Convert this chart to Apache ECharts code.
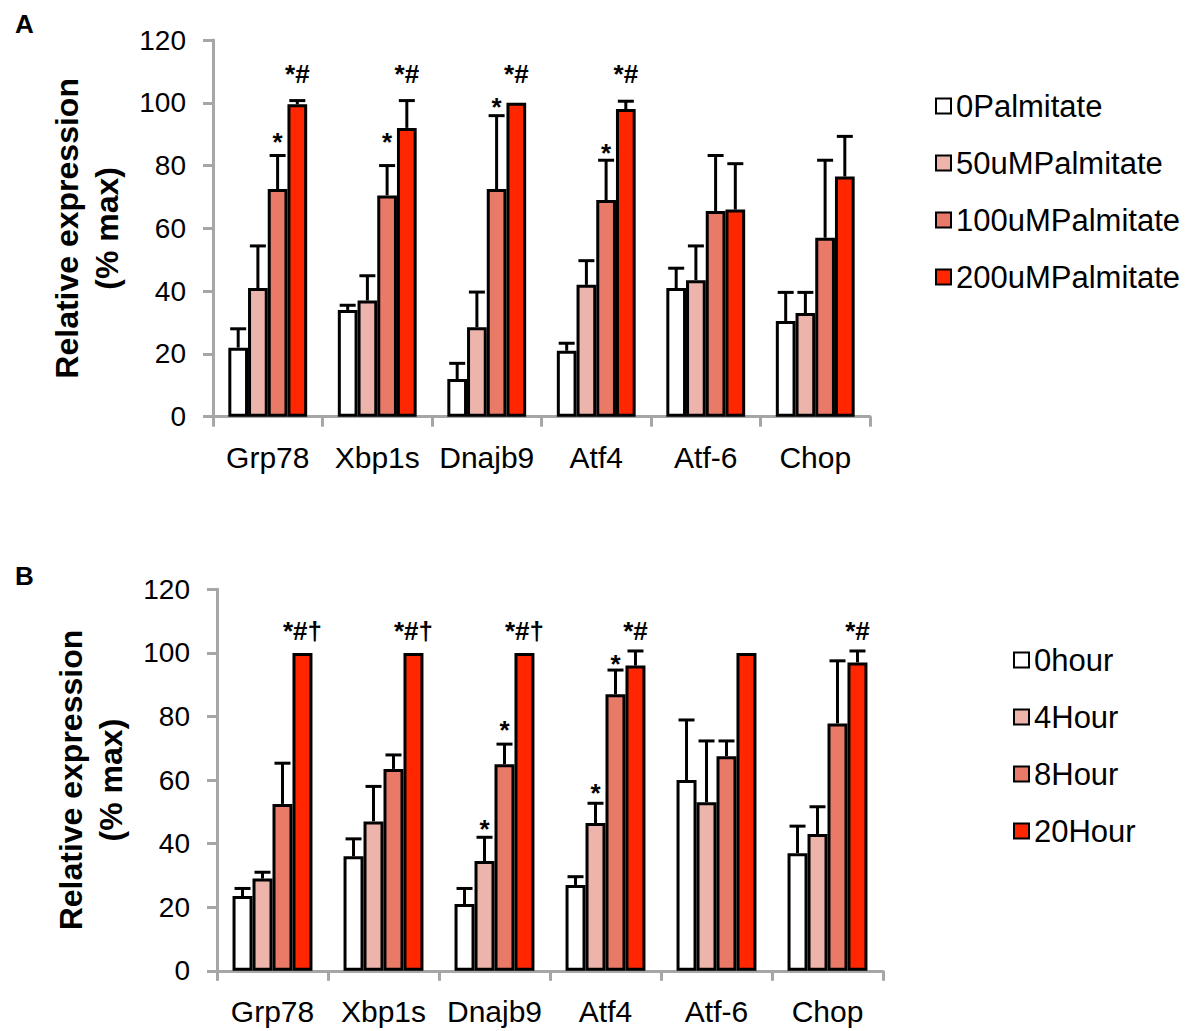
<!DOCTYPE html>
<html>
<head>
<meta charset="utf-8">
<script src="https://cdn.jsdelivr.net/npm/echarts@6/dist/echarts.min.js"></script>
<style>html,body{margin:0;padding:0;background:#fff;}#c{width:1193px;height:1031px;}</style>
</head>
<body>
<div id="c"></div>
<script>
// ---------- data ----------
const categories = ['Grp78', 'Xbp1s', 'Dnajb9', 'Atf4', 'Atf-6', 'Chop'];
const yTickMin = 0, yTickMax = 120, yTickStep = 20;

// Panel A (palmitate dose)
const seriesNamesA = ['0Palmitate', '50uMPalmitate', '100uMPalmitate', '200uMPalmitate'];
const a0   = [22, 34, 12, 21, 41, 30.5];
const a50  = [41, 37, 28.5, 42, 43.5, 33];
const a100 = [72.5, 70.5, 72.5, 69, 65.5, 57];
const a200 = [99.5, 92, 100, 98, 66, 76.5];
const errA0   = [6, 1.5, 5, 2.4, 6.3, 9.1];
const errA50  = [13.4, 7.9, 11.2, 7.7, 10.9, 6.6];
const errA100 = [10.7, 9.5, 23.4, 12.7, 17.7, 24.7];
const errA200 = [1.2, 8.7, 0, 2.5, 14.6, 12.8];
// [category, series index, text, value at glyph centre]
const annotA = [
  ['Grp78', 2, '*', 89.5], ['Grp78', 3, '*#', 109.3],
  ['Xbp1s', 2, '*', 89.3], ['Xbp1s', 3, '*#', 109.3],
  ['Dnajb9', 2, '*', 100.5], ['Dnajb9', 3, '*#', 109.3],
  ['Atf4', 2, '*', 86], ['Atf4', 3, '*#', 109.3]
];

// Panel B (time course)
const seriesNamesB = ['0hour', '4Hour', '8Hour', '20Hour'];
const b0  = [23.5, 36, 21, 27, 60, 37];
const b4  = [29, 47, 34.5, 46.5, 53, 43];
const b8  = [52.5, 63.5, 65, 87, 67.5, 77.8];
const b20 = [100, 100, 100, 96, 100, 97];
const errB0  = [2.4, 5.5, 4.9, 2.6, 18.9, 8.5];
const errB4  = [2, 11, 7.5, 6.2, 19.3, 8.6];
const errB8  = [12.8, 4.4, 6.3, 7.6, 4.8, 19.7];
const errB20 = [0, 0, 0, 4.6, 0, 3.6];
const annotB = [
  ['Grp78', 3, '*#\u2020', 106.9],
  ['Xbp1s', 3, '*#\u2020', 106.9],
  ['Dnajb9', 1, '*', 46.4], ['Dnajb9', 2, '*', 77.6], ['Dnajb9', 3, '*#\u2020', 106.9],
  ['Atf4', 1, '*', 57.9], ['Atf4', 2, '*', 98.3], ['Atf4', 3, '*#', 106.9],
  ['Chop', 3, '*#', 106.9]
];

const colors = ['#ffffff', '#edb4ac', '#e97a68', '#ff2600'];
// ---------- styling ----------
const FONT = "'Liberation Sans', Arial, sans-serif";
const CAT_GAP = 0.28;
const AXIS_GREY = '#a6a6a6';

function barX(api, ci, v, s) {
  const p = api.coord([ci, v]);
  const band = api.size([1, 0])[0];
  const total = band * (1 - CAT_GAP);
  const bw = total / 4;
  return [p[0] - total / 2 + bw * (s + 0.5), p[1]];
}

function errRender(params, api) {
  const ci = api.value(0), v = api.value(1), e = api.value(2), s = api.value(3);
  if (!e) return null;
  const base = barX(api, ci, v, s);
  const top = barX(api, ci, v + e, s);
  const x = base[0];
  return {
    type: 'group',
    children: [
      { type: 'line', shape: { x1: x, y1: base[1], x2: x, y2: top[1] }, style: { stroke: '#000', lineWidth: 3 } },
      { type: 'line', shape: { x1: x - 8, y1: top[1], x2: x + 8, y2: top[1] }, style: { stroke: '#000', lineWidth: 3 } }
    ]
  };
}
function makeAnnotRender(annots) {
  return function (params, api) {
    const a = annots[params.dataIndex];
    const txt = a[2];
    const p = barX(api, api.value(0), api.value(1), api.value(2));
    const dy = txt === '*' ? 6 : 0;
    return {
      type: 'text',
      style: {
        text: txt, x: p[0], y: p[1] + dy,
        fill: '#000', font: 'bold 26px ' + FONT,
        align: 'center', verticalAlign: 'middle',
        textAlign: 'center', textVerticalAlign: 'middle'
      }
    };
  };
}

function buildPanel(idx, names, vals, errs, annots) {
  const out = [];
  names.forEach((n, s) => {
    out.push({
      name: n, type: 'bar', xAxisIndex: idx, yAxisIndex: idx,
      data: vals[s], barGap: '0%', barCategoryGap: (CAT_GAP * 100) + '%',
      itemStyle: { color: colors[s], borderColor: '#000', borderWidth: 3 },
      emphasis: { disabled: true }, animation: false, z: 2
    });
  });
  const ed = [];
  errs.forEach((arr, s) => arr.forEach((e, ci) => ed.push([ci, vals[s][ci], e, s])));
  out.push({
    type: 'custom', xAxisIndex: idx, yAxisIndex: idx, renderItem: errRender,
    data: ed, encode: { x: 0, y: 1 }, z: 5, animation: false, silent: true
  });
  const ad = annots.map(a => [categories.indexOf(a[0]), a[3], a[1]]);
  out.push({
    type: 'custom', xAxisIndex: idx, yAxisIndex: idx, renderItem: makeAnnotRender(annots),
    data: ad, encode: { x: 0, y: 1 }, z: 6, animation: false, silent: true, clip: false
  });
  return out;
}

function xAxisCfg(grid) {
  return {
    type: 'category', gridIndex: grid, data: categories,
    axisLine: { lineStyle: { color: AXIS_GREY, width: 3 } },
    axisTick: { show: true, length: 10, lineStyle: { color: AXIS_GREY, width: 3 } },
    axisLabel: { color: '#000', fontSize: 30, fontFamily: FONT, margin: 26, interval: 0 }
  };
}
function yAxisCfg(grid) {
  return {
    type: 'value', gridIndex: grid, min: yTickMin, max: yTickMax, interval: yTickStep,
    splitLine: { show: false },
    axisLine: { show: true, lineStyle: { color: AXIS_GREY, width: 3 } },
    axisTick: { show: true, length: 10, lineStyle: { color: AXIS_GREY, width: 3 } },
    axisLabel: { color: '#000', fontSize: 28, fontFamily: FONT, margin: 27 },
    name: 'Relative expression\n(% max)', nameLocation: 'middle', nameRotate: 90, nameGap: 86,
    nameTextStyle: { color: '#000', fontSize: 32, fontWeight: 'bold', fontFamily: FONT, lineHeight: 40 }
  };
}
function legendCfg(names, left, top) {
  return {
    data: names, orient: 'vertical', left: left, top: top, icon: 'rect',
    itemWidth: 15, itemHeight: 15, itemGap: 21, selectedMode: false,
    itemStyle: { borderColor: '#000', borderWidth: 2 },
    textStyle: { color: '#000', fontSize: 31, fontFamily: FONT, lineHeight: 36, padding: [0, 0, 0, 0] }
  };
}

const chart = echarts.init(document.getElementById('c'), null, { renderer: 'svg' });
chart.setOption({
  backgroundColor: '#fff',
  animation: false,
  title: [
    { text: 'A', left: 10, top: 6, textStyle: { fontSize: 26, fontWeight: 'bold', color: '#000', fontFamily: FONT } },
    { text: 'B', left: 10, top: 558, textStyle: { fontSize: 26, fontWeight: 'bold', color: '#000', fontFamily: FONT } }
  ],
  legend: [legendCfg(seriesNamesA, 930, 83), legendCfg(seriesNamesB, 1008, 637)],
  grid: [
    { left: 213, top: 40, width: 657, height: 376.7 },
    { left: 217, top: 589.3, width: 666, height: 381.5 }
  ],
  xAxis: [xAxisCfg(0), xAxisCfg(1)],
  yAxis: [yAxisCfg(0), yAxisCfg(1)],
  series: [].concat(
    buildPanel(0, seriesNamesA, [a0, a50, a100, a200], [errA0, errA50, errA100, errA200], annotA),
    buildPanel(1, seriesNamesB, [b0, b4, b8, b20], [errB0, errB4, errB8, errB20], annotB)
  )
});
</script>
</body>
</html>
